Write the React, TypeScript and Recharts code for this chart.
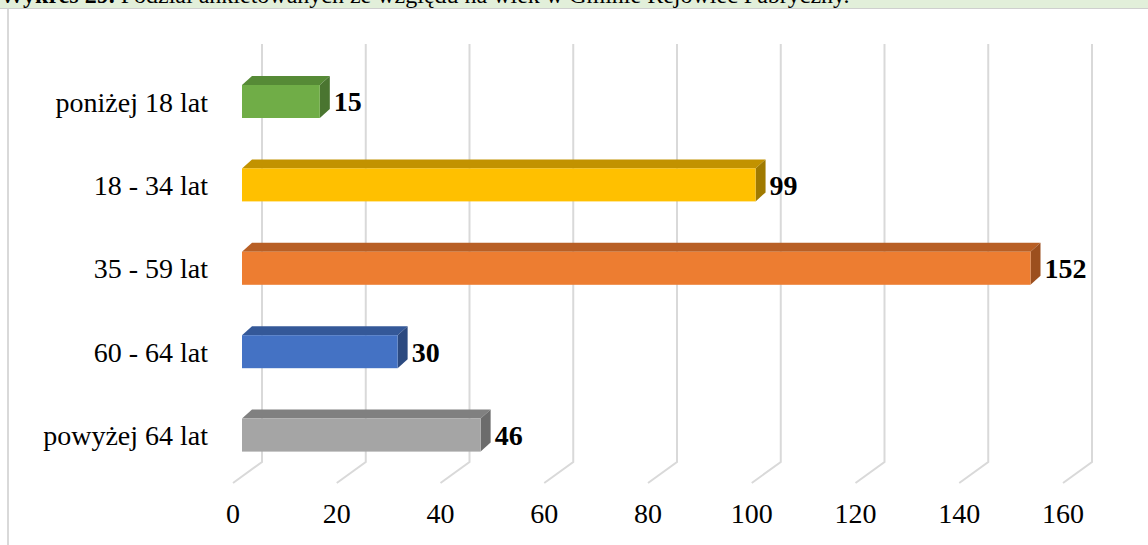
import React from 'react';
import { BarChart, Bar, XAxis, YAxis, CartesianGrid, LabelList, Cell } from 'recharts';

const categories = ['poniżej 18 lat', '18 - 34 lat', '35 - 59 lat', '60 - 64 lat', 'powyżej 64 lat'];
const values = [15, 99, 152, 30, 46];
const frontColors = ['#70ad47', '#ffc000', '#ed7d31', '#4472c4', '#a5a5a5'];
const topColors = ['#568a36', '#c29200', '#b85f25', '#345898', '#808080'];
const sideColors = ['#4a7530', '#a07a00', '#9c4f1e', '#2c4a80', '#6c6c6c'];
const xTicks = [0, 20, 40, 60, 80, 100, 120, 140, 160];

const data = categories.map((name, i) => ({ name, value: values[i] }));

const FONT = '"Liberation Serif", "Times New Roman", serif';
const DX = 10;
const DY = 9;

const Box3D = (props: any) => {
  const { x, y, width, height, index } = props;
  const w = Math.max(width, 0);
  return (
    <g>
      <polygon
        points={`${x},${y} ${x + DX},${y - DY} ${x + w + DX},${y - DY} ${x + w},${y}`}
        fill={topColors[index]}
      />
      <polygon
        points={`${x + w},${y} ${x + w + DX},${y - DY} ${x + w + DX},${y + height - DY} ${x + w},${y + height}`}
        fill={sideColors[index]}
      />
      <rect x={x} y={y} width={w} height={height} fill={frontColors[index]} />
    </g>
  );
};

const gridLine = (props: any) => {
  const { x1, y1, y2, index } = props;
  const back = x1 + 20;
  const front = x1 - 9;
  return (
    <path
      key={`g-${index}`}
      d={`M${back},${y1 - 16} L${back},${y2 - 15} L${front},${y2 + 6}`}
      stroke="#d9d9d9"
      strokeWidth={2}
      fill="none"
    />
  );
};

const CatTick = (props: any) => {
  const { y, payload } = props;
  return (
    <text x={208} y={y} dy="0.35em" textAnchor="end" fontFamily={FONT} fontSize={28} fill="#000">
      {payload.value}
    </text>
  );
};

const ValTick = (props: any) => {
  const { x, payload } = props;
  return (
    <text x={x - 9} y={523} textAnchor="middle" fontFamily={FONT} fontSize={28} fill="#000">
      {payload.value}
    </text>
  );
};

export default function App() {
  return (
    <div style={{ position: 'absolute', left: 0, top: 0, width: 1148, height: 545, background: '#fff', overflow: 'hidden' }}>
      <style>{`body{margin:0}`}</style>
      <div
        style={{
          position: 'absolute',
          left: 0,
          top: 0,
          width: 1148,
          height: 8,
          background: '#e2efda',
          borderBottom: '1px solid #cfcfcf',
          overflow: 'hidden',
          fontFamily: FONT,
          fontSize: 24,
          lineHeight: '24px',
          whiteSpace: 'nowrap',
        }}
      >
        <span style={{ position: 'absolute', left: 0, top: -17 }}>
          <b>Wykres 29.</b> Podział ankietowanych ze względu na wiek w Gminie Rejowiec Fabryczny.
        </span>
      </div>
      <div style={{ position: 'absolute', left: 7, top: 9, width: 2, height: 536, background: '#d9d9d9' }} />
      <div style={{ position: 'absolute', left: 0, top: 0 }}>
        <BarChart
          width={1148}
          height={545}
          data={data}
          layout="vertical"
          margin={{ top: 60, right: 76, bottom: 0, left: 0 }}
        >
          <CartesianGrid horizontal={false} vertical={gridLine} />
          <XAxis
            type="number"
            domain={[0, 160]}
            ticks={xTicks}
            axisLine={false}
            tickLine={false}
            height={68}
            tick={<ValTick />}
            interval={0}
          />
          <YAxis
            type="category"
            dataKey="name"
            width={242}
            axisLine={false}
            tickLine={false}
            tick={<CatTick />}
            interval={0}
          />
          <Bar dataKey="value" barSize={33} shape={<Box3D />} isAnimationActive={false}>
            {data.map((d, i) => (
              <Cell key={d.name} fill={frontColors[i]} />
            ))}
            <LabelList
              dataKey="value"
              position="right"
              offset={14}
              style={{ fontFamily: FONT, fontSize: 28, fontWeight: 'bold', fill: '#000' }}
            />
          </Bar>
        </BarChart>
      </div>
    </div>
  );
}
